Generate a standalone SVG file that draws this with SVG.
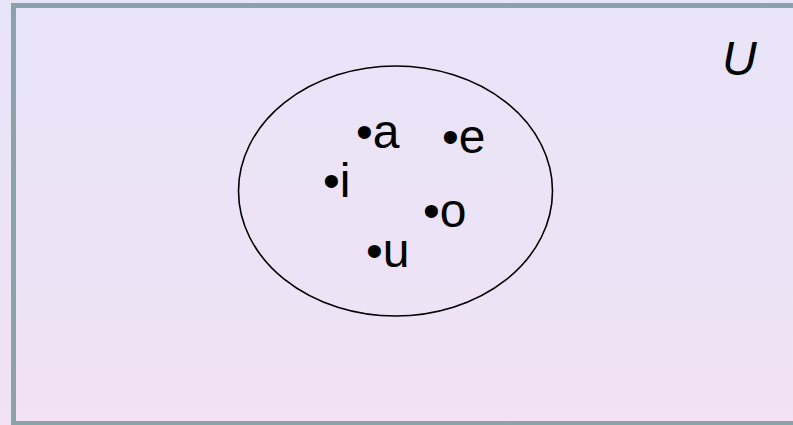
<svg xmlns="http://www.w3.org/2000/svg" width="793" height="425" viewBox="0 0 793 425">
<defs>
<linearGradient id="bg" x1="0" y1="0" x2="0" y2="1">
<stop offset="0" stop-color="#E8E4F8"/>
<stop offset="1" stop-color="#F1E2F4"/>
</linearGradient>
</defs>
<style>
.el{font-family:"Liberation Sans",Arial,sans-serif;font-size:48px;fill:#000}
</style>
<rect x="0" y="0" width="793" height="425" fill="url(#bg)"/>
<rect id="universe" x="13.5" y="5.5" width="800" height="418" fill="none" stroke="#8AA3A8" stroke-width="5"/>
<g id="set">
<ellipse cx="395.5" cy="191" rx="157" ry="125" fill="none" stroke="#000" stroke-width="1.6"/>
</g>
<g id="a"><text class="el" x="356" y="148">•a</text></g>
<g id="e"><text class="el" x="442" y="153">•e</text></g>
<g id="i"><text class="el" x="323" y="197">•i</text></g>
<g id="o"><text class="el" x="423" y="227">•o</text></g>
<g id="u"><text class="el" x="366" y="267">•u</text></g>
<g id="U"><text class="el" x="722" y="75" font-style="italic">U</text></g>
<g id="connectors"/>
</svg>
